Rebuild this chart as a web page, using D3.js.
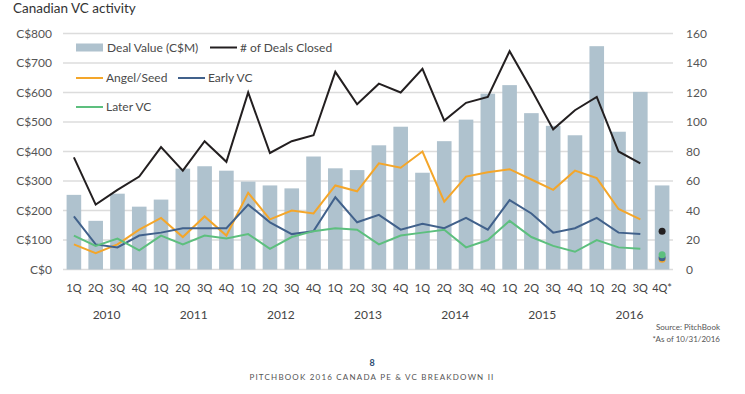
<!DOCTYPE html>
<html lang="en">
<head>
    <meta charset="UTF-8"/>
    <title>Canadian VC activity</title>
    <script src="https://d3js.org/d3.v7.min.js" charset="utf-8"></script>
    <style type="text/css">
        body { margin: 0; background: #fff; }
        text { font-family: Lato, "Open Sans", sans-serif; fill: #4a4a4a; }
        .grid line { stroke: #dcdcdc; stroke-width: 1.5px; }
        .axis path, .axis line { display: none; }
        path.line { fill: none; stroke-width: 2px; stroke-linejoin: miter; }
    </style>
</head>
<body>
<div id="chart"></div>
<script type="text/javascript">
    // data
    var quarters = ["1Q","2Q","3Q","4Q","1Q","2Q","3Q","4Q","1Q","2Q","3Q","4Q","1Q","2Q",
                    "3Q","4Q","1Q","2Q","3Q","4Q","1Q","2Q","3Q","4Q","1Q","2Q","3Q","4Q*"];
    var years = ["2010","2011","2012","2013","2014","2015","2016"];
    var dealValue = [253,165,257,213,237,342,350,335,298,285,275,383,343,337,
                     421,484,328,435,508,596,625,530,487,455,757,467,602,285];
    var dealsClosed = [76,44,54,63,83,67,87,73,120,79,87,91,134,112,
                       126,120,136,101,113,117,148,122,95,108,117,80,72,26];
    var angelSeed = [17,11,17,27,35,22,36,23,52,34,40,38,57,53,
                     72,69,80,46,63,66,68,61,54,67,62,41,34,7];
    var earlyVC = [36,17,15,23,25,28,28,28,44,32,24,26,49,32,
                   37,27,31,28,35,27,47,38,25,28,35,25,24,8];
    var laterVC = [23,16,21,13,23,17,23,21,24,14,22,26,28,27,
                   17,23,25,27,15,20,33,22,16,12,20,15,14,10];
    var leftTicks = [0,100,200,300,400,500,600,700,800];
    var rightTicks = [0,20,40,60,80,100,120,140,160];

    var colors = {bar: "#afc2ce", deals: "#231f20", angel: "#f4a62a", early: "#41618b", later: "#5dbf7e"};

    var W = 745, H = 394;
    var plot = {left: 63, right: 673, top: 33.5, bottom: 269.5};

    var svg = d3.select("#chart").append("svg")
        .attr("width", W).attr("height", H);

    var idx = d3.range(quarters.length);
    var x = d3.scaleBand().domain(idx).range([plot.left, plot.right]).paddingInner(0.33).paddingOuter(0.165);
    var yL = d3.scaleLinear().domain([0, 800]).range([plot.bottom, plot.top]);
    var yR = d3.scaleLinear().domain([0, 160]).range([plot.bottom, plot.top]);
    var cx = function (i) { return x(i) + x.bandwidth() / 2; };

    // title
    svg.append("text").attr("x", 13).attr("y", 13)
        .style("font-size", "13.5px").style("fill", "#333")
        .text("Canadian VC activity");

    // gridlines
    svg.append("g").attr("class", "grid")
        .selectAll("line").data(leftTicks).enter().append("line")
        .attr("x1", plot.left).attr("x2", plot.right)
        .attr("y1", function (d) { return yL(d); })
        .attr("y2", function (d) { return yL(d); });

    // left axis
    svg.append("g").attr("class", "axis")
        .attr("transform", "translate(" + (plot.left + 1) + ",0)")
        .call(d3.axisLeft(yL).tickValues(leftTicks).tickSize(0).tickPadding(12)
            .tickFormat(function (d) { return "C$" + d; }))
        .selectAll("text").style("font-size", "12px").style("fill", "#555");

    // right axis
    svg.append("g").attr("class", "axis")
        .attr("transform", "translate(" + (plot.right + 1) + ",0)")
        .call(d3.axisRight(yR).tickValues(rightTicks).tickSize(0).tickPadding(12))
        .selectAll("text").style("font-size", "12px").style("fill", "#555");

    // bars
    svg.append("g").selectAll("rect").data(dealValue).enter().append("rect")
        .attr("x", function (d, i) { return x(i); })
        .attr("y", function (d) { return yL(d); })
        .attr("width", x.bandwidth())
        .attr("height", function (d) { return plot.bottom - yL(d); })
        .style("fill", colors.bar);

    // lines, last quarter shown as a dot
    var series = [
        {vals: angelSeed, color: colors.angel},
        {vals: earlyVC, color: colors.early},
        {vals: laterVC, color: colors.later},
        {vals: dealsClosed, color: colors.deals}
    ];
    var line = d3.line().x(function (d) { return cx(d.i); }).y(function (d) { return yR(d.v); });
    var last = quarters.length - 1;
    series.forEach(function (s) {
        var pts = s.vals.map(function (v, i) { return {i: i, v: v}; });
        svg.append("path").attr("class", "line")
            .attr("d", line(pts.slice(0, last)))
            .style("stroke", s.color);
    });
    series.forEach(function (s) {
        svg.append("circle")
            .attr("cx", cx(last)).attr("cy", yR(s.vals[last])).attr("r", 3.5)
            .style("fill", s.color);
    });

    // quarter labels
    svg.append("g").selectAll("text").data(quarters).enter().append("text")
        .attr("x", function (d, i) { return cx(i); })
        .attr("y", 292)
        .attr("text-anchor", "middle")
        .style("font-size", "11px").style("fill", "#444")
        .text(function (d) { return d; });

    // year labels
    svg.append("g").selectAll("text").data(years).enter().append("text")
        .attr("x", function (d, i) { return (cx(i * 4 + 1) + cx(i * 4 + 2)) / 2; })
        .attr("y", 319)
        .attr("text-anchor", "middle")
        .style("font-size", "12px").style("fill", "#444")
        .text(function (d) { return d; });

    // legend
    var lg = svg.append("g").style("font-size", "12px");
    lg.append("rect").attr("x", 76).attr("y", 43.5).attr("width", 27).attr("height", 8).style("fill", colors.bar);
    lg.append("text").attr("x", 107).attr("y", 51.5).text("Deal Value (C$M)");
    var legLines = [
        {x: 210, y: 47.5, color: colors.deals, label: "# of Deals Closed"},
        {x: 76, y: 78, color: colors.angel, label: "Angel/Seed"},
        {x: 178, y: 78, color: colors.early, label: "Early VC"},
        {x: 76, y: 107, color: colors.later, label: "Later VC"}
    ];
    legLines.forEach(function (l) {
        lg.append("line").attr("x1", l.x).attr("x2", l.x + 27)
            .attr("y1", l.y).attr("y2", l.y)
            .style("stroke", l.color).style("stroke-width", 2);
        lg.append("text").attr("x", l.x + 30).attr("y", l.y + 4).text(l.label);
    });

    // footer
    svg.append("text").attr("x", 720).attr("y", 330).attr("text-anchor", "end")
        .style("font-size", "8px").style("fill", "#555").text("Source: PitchBook");
    svg.append("text").attr("x", 720).attr("y", 342).attr("text-anchor", "end")
        .style("font-size", "8px").style("fill", "#555").text("*As of 10/31/2016");
    svg.append("text").attr("x", 372).attr("y", 366).attr("text-anchor", "middle")
        .style("font-size", "9px").style("font-weight", "bold").style("fill", "#2c4a72").text("8");
    svg.append("text").attr("x", 372).attr("y", 380).attr("text-anchor", "middle")
        .style("font-size", "8px").style("letter-spacing", "1.2px").style("fill", "#555")
        .text("PITCHBOOK 2016 CANADA PE & VC BREAKDOWN II");
</script>
</body>
</html>
